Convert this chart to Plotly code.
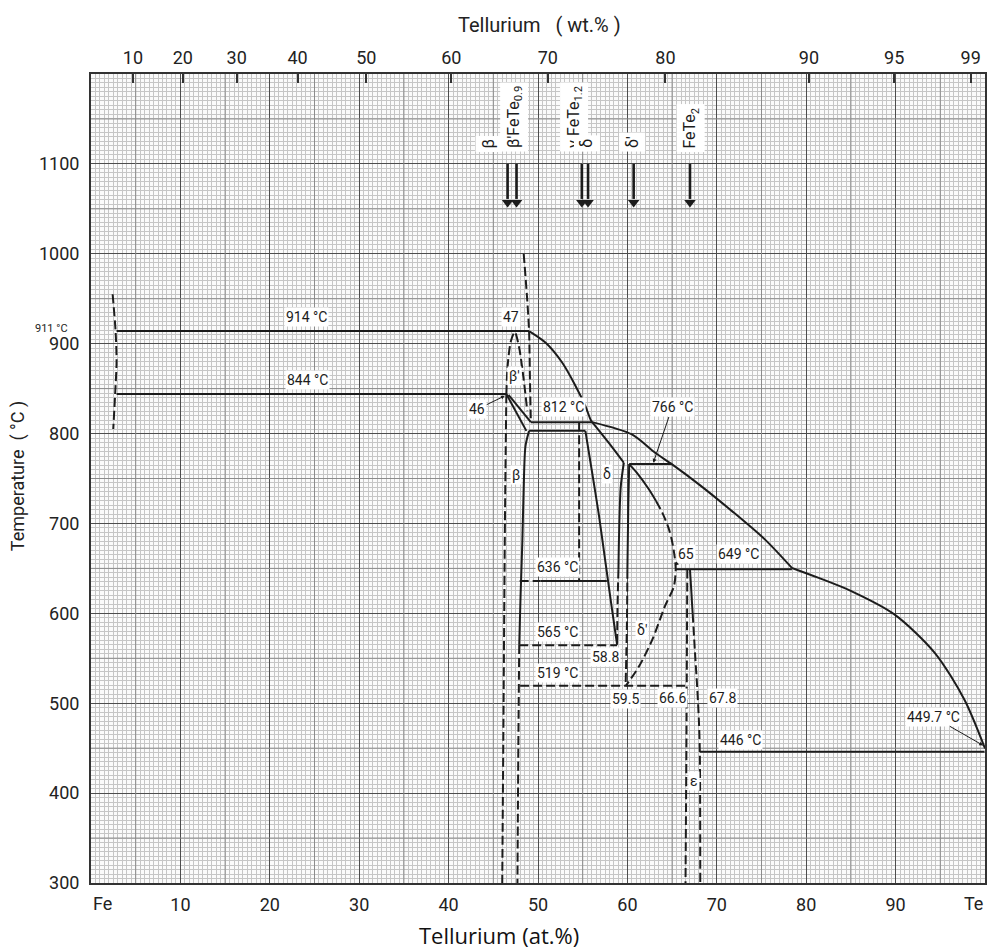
import plotly.graph_objects as go

# ---------------- data: composition in at.% Te, temperature in °C ----------------
fe_bound_x = [2.42, 2.75, 2.86, 2.70, 2.49]
fe_bound_t = [955, 914, 880, 844, 805]

iso914_x = [2.86, 49.0];  iso914_t = [914, 914]
iso844_x = [2.86, 46.46]; iso844_t = [844, 844]

high_dash_x = [48.4, 48.75, 49.0, 49.1, 49.2]
high_dash_t = [1000, 955, 914, 860, 812.7]

dome_x = [46.46, 46.6, 46.95, 47.4, 47.9, 48.4, 48.8]
dome_t = [844, 875, 902, 913, 895, 860, 825]

wedge1_x = [46.46, 48.7]; wedge1_t = [844, 803]
wedge2_x = [46.7, 49.2];  wedge2_t = [843, 812.7]

iso812_x = [49.2, 56.06]; iso812_t = [812.7, 812.7]
iso803_x = [49.0, 55.3];  iso803_t = [803, 803]

gamma_x = [54.6, 54.6]; gamma_t = [812.7, 636]

delta_left_x = [55.3, 56.0, 56.8, 57.5, 58.2, 58.85]
delta_left_t = [803, 760, 710, 660, 610, 565]

delta_top_x = [56.06, 57.9, 59.6]
delta_top_t = [812.7, 789.8, 767.5]

l1_solid_x = [59.6, 59.25, 59.05, 59.0]; l1_solid_t = [767.5, 740, 680, 649]
l1_dash_x = [59.0, 58.9, 58.85];         l1_dash_t = [649, 610, 565]
l2_solid_x = [60.2, 60.1, 60.0];         l2_solid_t = [766, 720, 649]
l2_dash_x = [60.0, 59.95, 59.8];         l2_dash_t = [649, 590, 519]

iso766_x = [60.2, 65.0]; iso766_t = [766, 766]

dp_solid_x = [60.2, 61.0, 62.4, 63.2]
dp_solid_t = [766, 757, 738, 725]
dp_dash_x = [63.2, 63.9, 64.6, 65.0, 65.3, 65.4, 65.2, 64.2, 62.8, 61.3, 59.8]
dp_dash_t = [725, 712, 695, 680, 662, 649, 630, 608, 571, 541, 519]

iso649_x = [65.4, 78.4]; iso649_t = [649, 649]

iso636_dash_x = [47.95, 50.3]; iso636_dash_t = [636, 636]
iso636_x = [50.3, 57.7];       iso636_t = [636, 636]
iso565_x = [47.9, 58.85];      iso565_t = [564.5, 564.5]
iso519_x = [48.0, 66.7];       iso519_t = [519.5, 519.5]

beta_left_x = [46.46, 46.3, 46.15, 46.0]
beta_left_t = [844, 700, 500, 300]
beta_right_x = [49.0, 48.6, 48.4, 48.25, 48.05, 47.9]
beta_right_t = [803, 786, 740, 680, 620, 565]
beta_right_dash_x = [47.9, 47.8, 47.7]
beta_right_dash_t = [565, 450, 300]

eps_left_x = [66.7, 66.6, 66.5]; eps_left_t = [649, 450, 300]
eps_right_x = [67.0, 67.3];      eps_right_t = [649, 600]
eps_right_dash_x = [67.3, 67.6, 67.8, 68.0, 68.1, 68.15]
eps_right_dash_t = [600, 550, 519, 480, 446, 300]

iso446_x = [68.1, 99.95]; iso446_t = [446, 446]

# liquidus, in three branches (corners at 812 °C and 649 °C)
liq1_x = [49.0, 50.86, 52.7, 54.2, 55.3, 55.9, 56.06]
liq1_t = [914, 901, 879, 853, 830.6, 815, 812.7]
liq2_x = [56.06, 60.5, 63.1, 65.0, 68.0, 71.7, 75.4, 78.4]
liq2_t = [812.7, 799, 778.6, 765.7, 743.5, 713.7, 682, 650.5]
liq3_x = [78.4, 81.4, 85.1, 89.9, 94.4, 97.7, 100.0]
liq3_t = [650.5, 639.4, 624.5, 598.6, 555.8, 503.9, 449.7]

# axis ticks
at_ticks = [10, 20, 30, 40, 50, 60, 70, 80, 90]
t_ticks = [300, 400, 500, 600, 700, 800, 900, 1000, 1100]
wt_labels = ["10", "20", "30", "40", "50", "60", "70", "80", "90", "95", "99"]
wt_pos_at = [4.69, 10.27, 16.29, 23.1, 30.8, 40.3, 51.1, 64.25, 80.3, 89.84, 98.4]
mid_x = [5, 15, 25, 35, 45, 55, 65, 75, 85, 95]
mid_t = [350, 450, 550, 650, 750, 850, 950, 1050, 1150]

# labels inside the diagram: text, x (at.%), T
box_labels = [
    ("914 °C", 24.1, 930), ("844 °C", 24.2, 860), ("47", 46.95, 930),
    ("β'", 47.4, 864), ("812 °C", 52.9, 829), ("β", 47.5, 754), ("δ", 57.7, 755),
    ("636 °C", 52.15, 651.7), ("565 °C", 52.15, 579), ("519 °C", 52.15, 533.5),
    ("58.8", 57.55, 551), ("59.5", 59.8, 504.5), ("66.6", 65.0, 505.6),
    ("67.8", 70.6, 505.6), ("δ'", 61.6, 582), ("649 °C", 72.4, 665.5),
    ("446 °C", 72.6, 459), ("ε", 67.4, 413),
]
# labels with leaders: text, x, T, pointed x, pointed T
leader_labels = [
    ("46", 43.2, 827, 46.3, 842),
    ("766 °C", 65.0, 829, 62.9, 767.5),
    ("65", 66.6, 665.5, 65.3, 653),
    ("449.7 °C", 94.2, 485, 99.8, 453),
]
# phase markers at the top
top_texts = [("β", 44.5), ("β'FeTe<sub>0.9</sub>", 47.3), ("γ FeTe<sub>1.2</sub>", 54.0),
             ("δ", 55.5), ("δ'", 60.5), ("FeTe<sub>2</sub>", 67.1)]
top_arrows_x = [46.6, 47.6, 54.9, 55.6, 60.7, 67.0]
arrow_tail_t = 1100
arrow_head_t = 1057

FONT = "Roboto, Liberation Sans, Arial, sans-serif"
INK = "#1c1c1c"
DASH = "9px,4px"

fig = go.Figure()


def line(x, t, dash=None, width=2.0, smooth=False):
    fig.add_trace(go.Scatter(
        x=x, y=t, mode="lines", showlegend=False, hoverinfo="skip",
        line=dict(color=INK, width=width, dash=dash if dash else "solid",
                  shape="spline" if smooth else "linear", smoothing=0.8)))


solid = [
    (iso914_x, iso914_t, False), (iso844_x, iso844_t, False), (wedge1_x, wedge1_t, False),
    (wedge2_x, wedge2_t, False), (iso812_x, iso812_t, False), (iso803_x, iso803_t, False),
    (delta_left_x, delta_left_t, True), (delta_top_x, delta_top_t, True),
    (l1_solid_x, l1_solid_t, True), (l2_solid_x, l2_solid_t, True),
    (iso766_x, iso766_t, False), (dp_solid_x, dp_solid_t, True), (iso649_x, iso649_t, False),
    (iso636_x, iso636_t, False), (beta_right_x, beta_right_t, True),
    (eps_right_x, eps_right_t, False), (iso446_x, iso446_t, False),
    (liq1_x, liq1_t, True), (liq2_x, liq2_t, True), (liq3_x, liq3_t, True),
]
dashed = [
    (fe_bound_x, fe_bound_t, True), (high_dash_x, high_dash_t, True), (dome_x, dome_t, True),
    (gamma_x, gamma_t, False), (l1_dash_x, l1_dash_t, True), (l2_dash_x, l2_dash_t, True),
    (dp_dash_x, dp_dash_t, True), (iso636_dash_x, iso636_dash_t, False),
    (iso565_x, iso565_t, False), (iso519_x, iso519_t, False),
    (beta_left_x, beta_left_t, True), (beta_right_dash_x, beta_right_dash_t, True),
    (eps_left_x, eps_left_t, True), (eps_right_dash_x, eps_right_dash_t, True),
]
for x, t, s in solid:
    line(x, t, smooth=s)
for x, t, s in dashed:
    line(x, t, dash=DASH, smooth=s)

# arrows at the top (shaft + head)
for x in top_arrows_x:
    fig.add_trace(go.Scatter(x=[x, x], y=[arrow_tail_t, arrow_head_t + 4], mode="lines",
                             line=dict(color=INK, width=2.6), showlegend=False, hoverinfo="skip"))
fig.add_trace(go.Scatter(x=top_arrows_x, y=[arrow_head_t] * len(top_arrows_x), mode="markers",
                         marker=dict(symbol="triangle-down", size=10, color=INK),
                         showlegend=False, hoverinfo="skip"))

# invisible trace for the top (wt.%) axis
fig.add_trace(go.Scatter(x=[0, 100], y=[300, 300], xaxis="x2", mode="lines",
                         line=dict(width=0), opacity=0, showlegend=False, hoverinfo="skip"))

ann = []
lab_font = dict(family=FONT, size=14, color=INK)
for txt, x, t in box_labels:
    ann.append(dict(x=x, y=t, xref="x", yref="y", text=txt, showarrow=False,
                    font=lab_font, bgcolor="white", borderpad=1))
for txt, x, t, px, pt in leader_labels:
    ann.append(dict(x=px, y=pt, ax=x, ay=t, axref="x", ayref="y", xref="x", yref="y",
                    text=txt, showarrow=True, arrowhead=2, arrowsize=0.8, arrowwidth=1,
                    arrowcolor=INK, font=lab_font, bgcolor="white", borderpad=1))
for txt, x in top_texts:
    ann.append(dict(x=x, y=1113, xref="x", yref="y", text=txt, showarrow=False,
                    textangle=-90, xanchor="center", yanchor="bottom",
                    font=dict(family=FONT, size=16, color=INK), bgcolor="white", borderpad=3))

# axis titles & end labels
ann.append(dict(x=(541 - 91) / 896, y=1 + (74 - 25) / 809, xref="paper", yref="paper",
                yanchor="middle", text="Tellurium   ( wt.% )", showarrow=False,
                font=dict(family=FONT, size=20, color="#222")))
ann.append(dict(x=(500 - 91) / 896, y=-(935 - 883) / 809, xref="paper", yref="paper",
                yanchor="middle", text="Tellurium (at.%)", showarrow=False,
                font=dict(family="Open Sans, Noto Sans, sans-serif", size=22, color="#111")))
ann.append(dict(x=(18 - 91) / 896, y=(883 - 476) / 809, xref="paper", yref="paper",
                xanchor="center", yanchor="middle",
                text="Temperature  ( °C )", showarrow=False, textangle=-90,
                font=dict(family=FONT, size=18, color="#222")))
ann.append(dict(x=0, y=-(903 - 883) / 809, xref="x", yref="paper", text="Fe", yanchor="middle",
                showarrow=False, xanchor="left", font=dict(family=FONT, size=18, color="#222")))
ann.append(dict(x=100, y=-(903 - 883) / 809, xref="x", yref="paper", text="Te", yanchor="middle",
                showarrow=False, xanchor="right", font=dict(family=FONT, size=18, color="#222")))
ann.append(dict(x=(33 - 91) / 896, y=917, xref="paper", yref="y", text="911 °C",
                showarrow=False, font=dict(family=FONT, size=11, color="#222")))

shapes = []
for v in mid_x:
    shapes.append(dict(type="line", xref="x", yref="y", x0=v, x1=v, y0=300, y1=1200,
                       line=dict(color="#8c8c8c", width=1), layer="between"))
for v in mid_t:
    shapes.append(dict(type="line", xref="x", yref="y", x0=0, x1=100, y0=v, y1=v,
                       line=dict(color="#8c8c8c", width=1), layer="between"))

tick_font = dict(family=FONT, size=18, color="#222")
fig.update_layout(
    width=990, height=952,
    margin=dict(l=91, r=3, t=74, b=69),
    paper_bgcolor="white", plot_bgcolor="#fbfbfb",
    showlegend=False,
    annotations=ann, shapes=shapes,
    xaxis=dict(range=[0, 100], tickmode="array", tickvals=at_ticks,
               ticktext=[str(v) for v in at_ticks], tickfont=tick_font,
               showgrid=True, gridcolor="#4d4d4d", gridwidth=1.3,
               minor=dict(tick0=0, dtick=0.5, showgrid=True, gridcolor="#c6c6c6", gridwidth=0.5),
               showline=True, mirror=True, linecolor="#333", linewidth=2,
               zeroline=False, ticks="", ticklabelstandoff=4, fixedrange=True),
    yaxis=dict(range=[300, 1200], tickmode="array", tickvals=t_ticks + [1200],
               ticktext=[str(v) for v in t_ticks] + [""], tickfont=tick_font,
               showgrid=True, gridcolor="#4d4d4d", gridwidth=1.3,
               minor=dict(tick0=300, dtick=5, showgrid=True, gridcolor="#c6c6c6", gridwidth=0.5),
               showline=True, mirror=True, linecolor="#333", linewidth=2,
               zeroline=False, ticks="", ticklabelstandoff=6, fixedrange=True),
    xaxis2=dict(overlaying="x", side="top", range=[0, 100], tickmode="array",
                tickvals=wt_pos_at, ticktext=wt_labels, tickfont=tick_font,
                ticks="inside", ticklen=9, tickwidth=1.5, tickcolor="#333",
                ticklabelstandoff=5,
                showgrid=False, zeroline=False, showline=False, fixedrange=True),
)

fig.write_html("out.html")
